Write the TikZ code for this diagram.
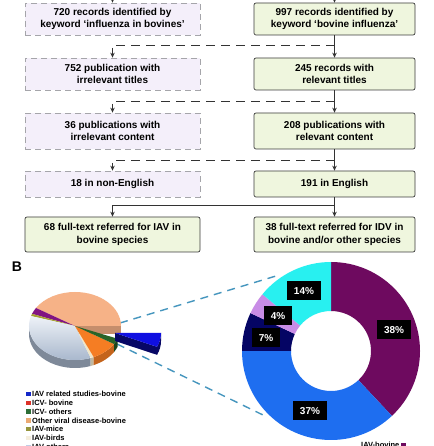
\documentclass[tikz,border=0pt]{standalone}
\usepackage{fontspec}
\setmainfont{Liberation Sans}
\usetikzlibrary{arrows.meta,calc}

\definecolor{lbfill}{RGB}{244,239,250}
\definecolor{lbdraw}{RGB}{165,165,170}
\definecolor{rbfill}{RGB}{239,246,222}
\definecolor{rbdraw}{RGB}{60,60,60}
\definecolor{zoomline}{RGB}{70,150,190}
\definecolor{piepeach}{RGB}{246,178,135}
\definecolor{piepurple}{RGB}{130,20,130}
\definecolor{pieolive}{RGB}{165,160,50}
\definecolor{piegraytop}{RGB}{238,242,248}
\definecolor{piegraybot}{RGB}{168,183,204}
\definecolor{piecream}{RGB}{240,230,200}
\definecolor{pieorange}{RGB}{245,125,35}
\definecolor{piegreen}{RGB}{40,100,40}
\definecolor{pieblue}{RGB}{15,15,225}
\definecolor{legblue}{RGB}{20,40,200}
\definecolor{legred}{RGB}{220,50,40}
\definecolor{leggreen}{RGB}{45,110,55}
\definecolor{legpeach}{RGB}{235,170,115}
\definecolor{legolive}{RGB}{150,150,60}
\definecolor{legcream}{RGB}{245,238,222}
\definecolor{leggray}{RGB}{190,205,230}
\definecolor{dpurple}{RGB}{110,10,95}
\definecolor{dblue}{RGB}{30,110,240}
\definecolor{dnavy}{RGB}{5,5,100}
\definecolor{dlilac}{RGB}{200,140,230}
\definecolor{dcyan}{RGB}{40,240,240}

\tikzset{
  flowtext/.style={font=\fontsize{10}{12.5}\selectfont\bfseries,
    align=center, inner sep=0pt},
  leftbox/.style={flowtext, draw=lbdraw, fill=lbfill, line width=0.7pt,
    dash pattern=on 6pt off 4pt, minimum width=175pt},
  rightbox/.style={flowtext, draw=rbdraw, fill=rbfill, rounded corners=2pt,
    line width=0.7pt, minimum width=161pt},
  flow/.style={-{Stealth[length=5pt,width=4.5pt]}, line width=0.8pt,
    draw=black!80},
  excl/.style={flow, dash pattern=on 9pt off 6pt},
  pct/.style={fill=black, text=white, font=\fontsize{10}{12}\selectfont\bfseries,
    inner xsep=7pt, inner ysep=0pt, minimum height=19pt},
  legtext/.style={font=\fontsize{7.5}{8.8}\selectfont\bfseries, anchor=west,
    inner sep=0pt},
  legsq/.style={inner sep=0pt, minimum size=4.5pt},
  zoomln/.style={zoomline, line width=1.4pt, dash pattern=on 8pt off 6pt}
}

\begin{document}
\begin{tikzpicture}[x=1pt,y=1pt]
  \useasboundingbox (0,0) rectangle (433,446);
  \fill[white] (0,0) rectangle (433,446);

  \node[leftbox, minimum height=32pt] (kwl) at (112.5,427)
    {720 records identified by\\keyword ‘influenza in bovines’};
  \node[rightbox, minimum height=32pt] (kwr) at (334.5,427)
    {997 records identified by\\keyword ‘bovine influenza’};

  \node[leftbox, minimum height=32pt] (titl) at (112.5,372)
    {752 publication with\\irrelevant titles};
  \node[rightbox, minimum height=32pt] (titr) at (334.5,372)
    {245 records with\\relevant titles};

  \node[leftbox, minimum height=36pt] (contl) at (112.5,315)
    {36 publications with\\irrelevant content};
  \node[rightbox, minimum height=36pt] (contr) at (334.5,315)
    {208 publications with\\relevant content};

  \node[leftbox, minimum height=26pt] (langl) at (112.5,262)
    {18 in non-English};
  \node[rightbox, minimum height=26pt] (langr) at (334.5,262)
    {191 in English};

  \node[rightbox, minimum width=175pt, minimum height=35pt] (fulll) at (112.5,211.5)
    {68 full-text referred for IAV in\\bovine species};
  \node[rightbox, minimum height=35pt] (fullr) at (334.5,211.5)
    {38 full-text referred for IDV in\\bovine and/or other species};

  \coordinate (tl) at (112.5,452);
  \coordinate (tr) at (334.5,452);
  \coordinate (b1) at (334.5,401);
  \coordinate (b2) at (334.5,345);
  \coordinate (b3) at (334.5,286);
  \coordinate (b4) at (334.5,241);

  \draw[flow] (tl) -- (kwl);
  \draw[flow] (tr) -- (kwr);
  \draw[flow] (kwr) -- (titr);
  \draw[flow] (titr) -- (contr);
  \draw[flow] (contr) -- (langr);
  \draw[flow] (langr) -- (fullr);
  \draw[excl] (b1) -| (titl);
  \draw[excl] (b2) -| (contl);
  \draw[excl] (b3) -| (langl);
  \draw[flow] (b4) -| (fulll);

  \node[font=\fontsize{14}{16}\selectfont\bfseries, inner sep=0pt] (lblB) at (17,179) {B};

  \coordinate (zu1) at (120,123);
  \coordinate (zu2) at (276,170);
  \coordinate (zl1) at (117,102);
  \coordinate (zl2) at (263,31);
  \draw[zoomln] (zu1) -- (zu2);
  \draw[zoomln] (zl1) -- (zl2);

  % 3d pie
  \coordinate (pc) at (75,120);
  \fill[piegraybot!75!black] ($(pc)+(180:46 and 34)$) arc[start angle=180,end angle=290,x radius=46,y radius=34]
    -- ++(0,-8) arc[start angle=290,end angle=180,x radius=46,y radius=34] -- cycle;
  \fill[piecream!80!black] ($(pc)+(290:46 and 34)$) arc[start angle=290,end angle=294,x radius=46,y radius=34]
    -- ++(0,-8) arc[start angle=294,end angle=290,x radius=46,y radius=34] -- cycle;
  \fill[pieorange!80!black] ($(pc)+(294:46 and 34)$) arc[start angle=294,end angle=328,x radius=46,y radius=34]
    -- ++(0,-8) arc[start angle=328,end angle=294,x radius=46,y radius=34] -- cycle;
  \fill[piegreen!70!black] ($(pc)+(328:46 and 34)$) arc[start angle=328,end angle=338,x radius=46,y radius=34]
    -- ++(0,-8) arc[start angle=338,end angle=328,x radius=46,y radius=34] -- cycle;
  \fill[piepeach!80!black] (pc) -- ($(pc)+(46,0)$) -- ++(0,-8) -- ($(pc)+(0,-8)$) -- cycle;

  \fill[piepeach] (pc) -- ($(pc)+(0:46 and 34)$)
    arc[start angle=0,end angle=148,x radius=46,y radius=34] -- cycle;
  \fill[piepurple] (pc) -- ($(pc)+(148:46 and 34)$)
    arc[start angle=148,end angle=159,x radius=46,y radius=34] -- cycle;
  \fill[pieolive] (pc) -- ($(pc)+(159:46 and 34)$)
    arc[start angle=159,end angle=163,x radius=46,y radius=34] -- cycle;
  \shade[top color=piegraytop, bottom color=piegraybot] (pc) -- ($(pc)+(163:46 and 34)$)
    arc[start angle=163,end angle=290,x radius=46,y radius=34] -- cycle;
  \fill[piecream] (pc) -- ($(pc)+(290:46 and 34)$)
    arc[start angle=290,end angle=294,x radius=46,y radius=34] -- cycle;
  \fill[pieorange] (pc) -- ($(pc)+(294:46 and 34)$)
    arc[start angle=294,end angle=328,x radius=46,y radius=34] -- cycle;
  \fill[piegreen] (pc) -- ($(pc)+(328:46 and 34)$)
    arc[start angle=328,end angle=338,x radius=46,y radius=34] -- cycle;

  \coordinate (pb) at (115,113);
  \fill[pieblue!45!black] (pb) -- ($(pb)+(336:46 and 34)$) -- ++(0,-8) -- ($(pb)+(0,-8)$) -- cycle;
  \fill[pieblue!45!black] ($(pb)+(336:46 and 34)$) arc[start angle=336,end angle=360,x radius=46,y radius=34]
    -- ++(0,-8) arc[start angle=360,end angle=336,x radius=46,y radius=34] -- cycle;
  \fill[pieblue] (pb) -- ($(pb)+(336:46 and 34)$)
    arc[start angle=336,end angle=360,x radius=46,y radius=34] -- cycle;

  % donut
  \coordinate (dc) at (331,95);
  \foreach \a/\b/\c in {90/-46.8/dpurple, -46.8/-180/dblue, -180/-205.2/dnavy,
      -205.2/-219.6/dlilac, -219.6/-270/dcyan}
    \fill[\c] ($(dc)+(\a:89)$) arc[start angle=\a, end angle=\b, radius=89]
      -- ($(dc)+(\b:40)$) arc[start angle=\b, end angle=\a, radius=40] -- cycle;

  \node[pct] (p38) at (394,116) {38\%};
  \node[pct] (p37) at (310,35) {37\%};
  \node[pct] (p7) at (266,108) {7\%};
  \node[pct] (p4) at (278,130) {4\%};
  \node[pct] (p14) at (304,155) {14\%};

  \node[legtext] (ivb) at (361,1.2) {IAV-bovine};
  \node[legsq, fill=dpurple, anchor=west] (ivbsq) at ($(ivb.east)+(1.5,0)$) {};

  % legend
  \foreach \c/\t [count=\i] in {legblue/IAV related studies-bovine, legred/ICV- bovine,
      leggreen/ICV- others, legpeach/Other viral disease-bovine, legolive/IAV-mice,
      legcream/IAV-birds, leggray/IAV-others} {
    \node[legsq, fill=\c] (sq\i) at (28.5,{52-(\i-1)*8.8}) {};
    \node[legtext] (lg\i) at (32,{52-(\i-1)*8.8}) {\t};
  }
\end{tikzpicture}
\end{document}
